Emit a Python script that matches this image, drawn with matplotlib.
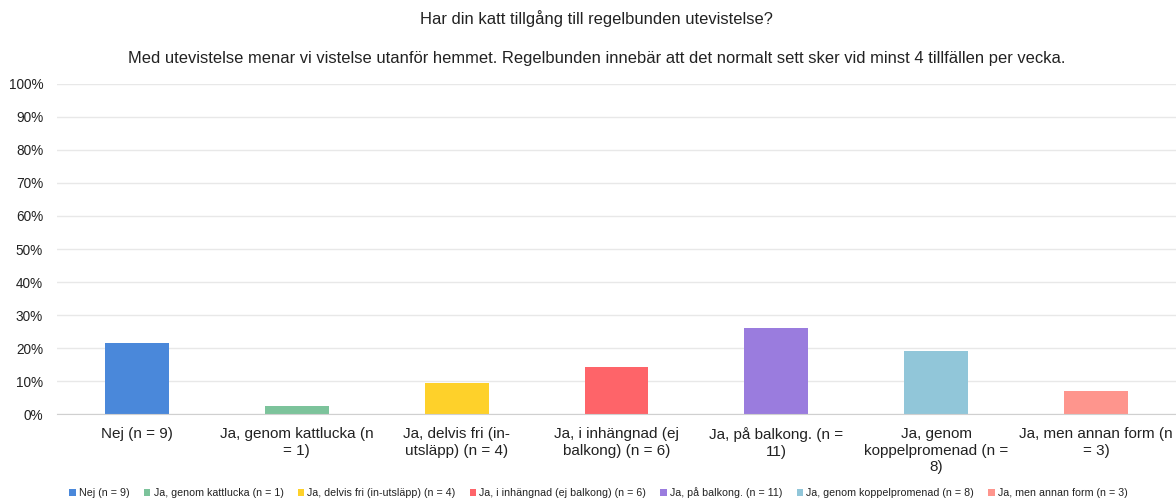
import matplotlib
matplotlib.use("Agg")
import matplotlib.pyplot as plt
from matplotlib.patches import Patch
from matplotlib.ticker import PercentFormatter

plt.rcParams['font.family'] = ['Liberation Sans', 'DejaVu Sans']

title = "Har din katt tillgång till regelbunden utevistelse?"
subtitle = ("Med utevistelse menar vi vistelse utanför hemmet. Regelbunden innebär att det "
            "normalt sett sker vid minst 4 tillfällen per vecka.")

categories = ["Nej (n = 9)", "Ja, genom kattlucka (n = 1)", "Ja, delvis fri (in-utsläpp) (n = 4)",
              "Ja, i inhängnad (ej balkong) (n = 6)", "Ja, på balkong. (n = 11)",
              "Ja, genom koppelpromenad (n = 8)", "Ja, men annan form (n = 3)"]
tick_labels = ["Nej (n = 9)", "Ja, genom kattlucka (n\n= 1)", "Ja, delvis fri (in-\nutsläpp) (n = 4)",
               "Ja, i inhängnad (ej\nbalkong) (n = 6)", "Ja, på balkong. (n =\n11)",
               "Ja, genom\nkoppelpromenad (n =\n8)", "Ja, men annan form (n\n= 3)"]
counts = [9, 1, 4, 6, 11, 8, 3]
colors = ["#4a88da", "#7cc39b", "#fed12a", "#fe6469", "#9a7cde", "#91c6d9", "#fe958d"]

total = sum(counts)
values = [c / total for c in counts]

fig = plt.figure(figsize=(11.76, 4.99), dpi=100)
ax = fig.add_axes([0.0485, 0.170, 0.9515, 0.662])

x = list(range(len(categories)))
ax.bar(x, values, width=0.4, color=colors, zorder=3)
ax.set_xlim(-0.5, len(categories) - 0.5)
ax.set_ylim(0, 1.0)
ax.set_yticks([i / 10 for i in range(11)])
ax.yaxis.set_major_formatter(PercentFormatter(1.0, decimals=0))
ax.set_xticks(x)
ax.set_xticklabels(tick_labels, fontsize=11, color="#222222", linespacing=1.2)
ax.tick_params(axis='y', labelsize=9.8, colors="#222222", length=0, pad=10)
ax.tick_params(axis='x', length=0, pad=9.5)
ax.grid(axis='y', color="#e8e8e8", linewidth=1, zorder=0)
for s in ['top', 'right', 'left']:
    ax.spines[s].set_visible(False)
ax.spines['bottom'].set_color("#d0d0d0")
ax.spines['bottom'].set_zorder(4)

fig.text(0.5075, 0.962, title, ha='center', va='center', fontsize=11.9, color="#222222")
fig.text(0.5075, 0.882, subtitle, ha='center', va='center', fontsize=11.9, color="#222222")

handles = [Patch(facecolor=c, edgecolor='none') for c in colors]
fig.legend(handles, categories, loc='center', bbox_to_anchor=(0.509, 0.012), ncol=7,
           frameon=False, fontsize=7.7, handlelength=0.6, handleheight=0.6,
           handletextpad=0.3, columnspacing=1.33, labelcolor="#222222")

fig.savefig("out.png", dpi=100)
